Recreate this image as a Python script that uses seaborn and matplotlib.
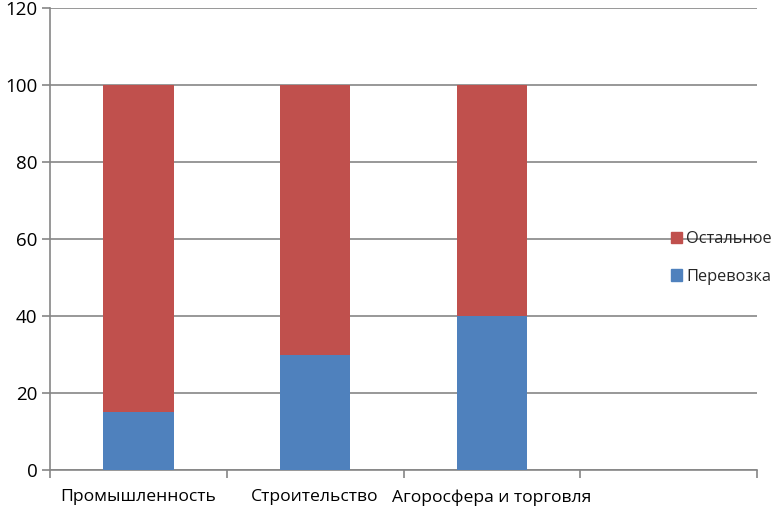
import matplotlib
matplotlib.use("Agg")
import matplotlib.pyplot as plt
import seaborn as sns
import pandas as pd
import numpy as np
from matplotlib.patches import Patch

categories = ["Промышленность", "Строительство", "Агоросфера и торговля"]
transport = [15, 30, 40]
other = [85, 70, 60]
y_ticks = [0, 20, 40, 60, 80, 100, 120]

sns.set_theme(style="white")
plt.rcParams['font.family'] = ['Open Sans', 'DejaVu Sans']

RED = "#C0504D"
BLUE = "#4F81BD"
GRID = "#868686"

df = pd.DataFrame({"cat": categories,
                   "transport": transport,
                   "total": [t + o for t, o in zip(transport, other)]})

fig = plt.figure(figsize=(7.74, 5.07), dpi=100)
ax = fig.add_axes([50/774, 37/507, 707/774, 462/507])

sns.barplot(data=df, x="cat", y="total", color=RED, width=0.4, ax=ax,
            saturation=1, edgecolor="none", zorder=3)
sns.barplot(data=df, x="cat", y="transport", color=BLUE, width=0.4, ax=ax,
            saturation=1, edgecolor="none", zorder=3)

ax.set_xlim(-0.5, 3.5)
ax.set_ylim(0, 120)
ax.set_yticks(y_ticks)
ax.yaxis.grid(True, color=GRID, linewidth=1.2, zorder=0)
ax.set_axisbelow(True)

ax.set_xticks([-0.5, 0.5, 1.5, 2.5, 3.5])
ax.set_xticklabels([])
ax.set_xticks([0, 1, 2], minor=True)
ax.set_xticklabels(categories, minor=True)
ax.tick_params(axis="x", which="major", length=6, width=1.2, color=GRID, direction="out", bottom=True)
ax.tick_params(axis="x", which="minor", length=0, pad=14, labelsize=12.6, labelcolor="black")
ax.tick_params(axis="y", length=6, width=1.2, color=GRID, direction="out", left=True, labelsize=13.5, labelcolor="black", pad=3)
ax.set_xlabel("")
ax.set_ylabel("")

for s in ["top", "right"]:
    ax.spines[s].set_visible(False)
for s in ["left", "bottom"]:
    ax.spines[s].set_color(GRID)
    ax.spines[s].set_linewidth(1.2)

handles = [Patch(color=RED, label="Остальное"), Patch(color=BLUE, label="Перевозка")]
fig.legend(handles=handles, loc="center left", bbox_to_anchor=(664/774, 1 - 258/507),
           frameon=False, fontsize=11.8, handlelength=0.7, handleheight=0.7,
           handletextpad=0.25, labelspacing=1.3, borderaxespad=0)

fig.savefig("out.png", dpi=100)
